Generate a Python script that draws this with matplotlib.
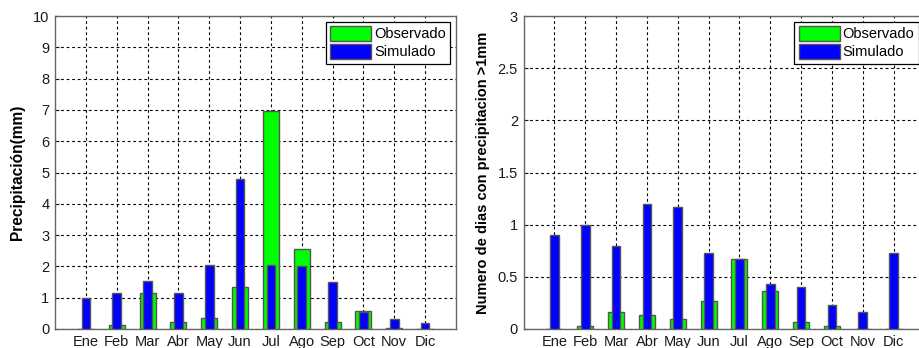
import numpy as np
import matplotlib.pyplot as plt

plt.rcParams['font.family'] = ['Liberation Sans', 'DejaVu Sans']

meses = ["Ene", "Feb", "Mar", "Abr", "May", "Jun", "Jul", "Ago", "Sep", "Oct", "Nov", "Dic"]

# precipitacion media (mm)
pp_obs = [0.0, 0.13, 1.14, 0.23, 0.34, 1.34, 6.96, 2.57, 0.23, 0.57, 0.02, 0.0]
pp_sim = [1.0, 1.14, 1.54, 1.16, 2.04, 4.79, 2.04, 2.01, 1.49, 0.55, 0.32, 0.2]

# numero de dias con precipitacion > 1mm
dias_obs = [0.0, 0.033, 0.167, 0.133, 0.1, 0.267, 0.667, 0.367, 0.067, 0.033, 0.0, 0.0]
dias_sim = [0.9, 1.0, 0.8, 1.2, 1.167, 0.733, 0.667, 0.433, 0.4, 0.233, 0.167, 0.733]

verde = '#00ff00'
azul = '#0000ff'
borde = '#555555'

fig = plt.figure(figsize=(9.19, 3.48), dpi=100)
W, H = 919.0, 348.0
ax1 = fig.add_axes([55 / W, 1 - 329 / H, 401 / W, 313 / H])
ax2 = fig.add_axes([523.5 / W, 1 - 329 / H, 401 / W, 313 / H])

x = np.arange(1, 13)


def panel(ax, obs, sim, ymax, yticks, ytlabels, ylabel, ysize):
    ax.bar(x, obs, width=0.52, color=verde, edgecolor=borde, linewidth=1.0,
           label="Observado", zorder=3)
    ax.bar(x, sim, width=0.28, color=azul, edgecolor=borde, linewidth=1.0,
           label="Simulado", zorder=4)
    ax.set_xlim(0, 13)
    ax.set_ylim(0, ymax)
    ax.set_xticks(x)
    ax.set_xticklabels(meses)
    ax.set_yticks(yticks)
    ax.set_yticklabels(ytlabels)
    ax.tick_params(direction='in', length=3, labelsize=10.5, colors='#1a1a1a', pad=4)
    ax.grid(True, color='black', linestyle=(0, (2.5, 2.5)), linewidth=0.8, zorder=1)
    ax.set_axisbelow(True)
    for s in ax.spines.values():
        s.set_color('#666666')
        s.set_linewidth(1.0)
    ax.set_ylabel(ylabel, fontsize=ysize, fontweight='bold')
    leg = ax.legend(loc='upper right', fontsize=10.5, fancybox=False, framealpha=1,
                    edgecolor='black', handlelength=2.8, handleheight=1.15,
                    borderpad=0.3, labelspacing=0.2, handletextpad=0.2,
                    borderaxespad=0.4)
    leg.get_frame().set_linewidth(0.9)


panel(ax1, pp_obs, pp_sim, 10, np.arange(0, 11), [str(v) for v in range(11)],
      "Precipitación(mm)", 11.2)
panel(ax2, dias_obs, dias_sim, 3, np.arange(0, 3.01, 0.5),
      ["0", "0.5", "1", "1.5", "2", "2.5", "3"],
      "Numero de dias con precipitacion >1mm", 10.5)

ax1.yaxis.set_label_coords(-0.075, 0.5)
ax2.yaxis.set_label_coords(-0.083, 0.5)

fig.savefig("out.png", dpi=100)
